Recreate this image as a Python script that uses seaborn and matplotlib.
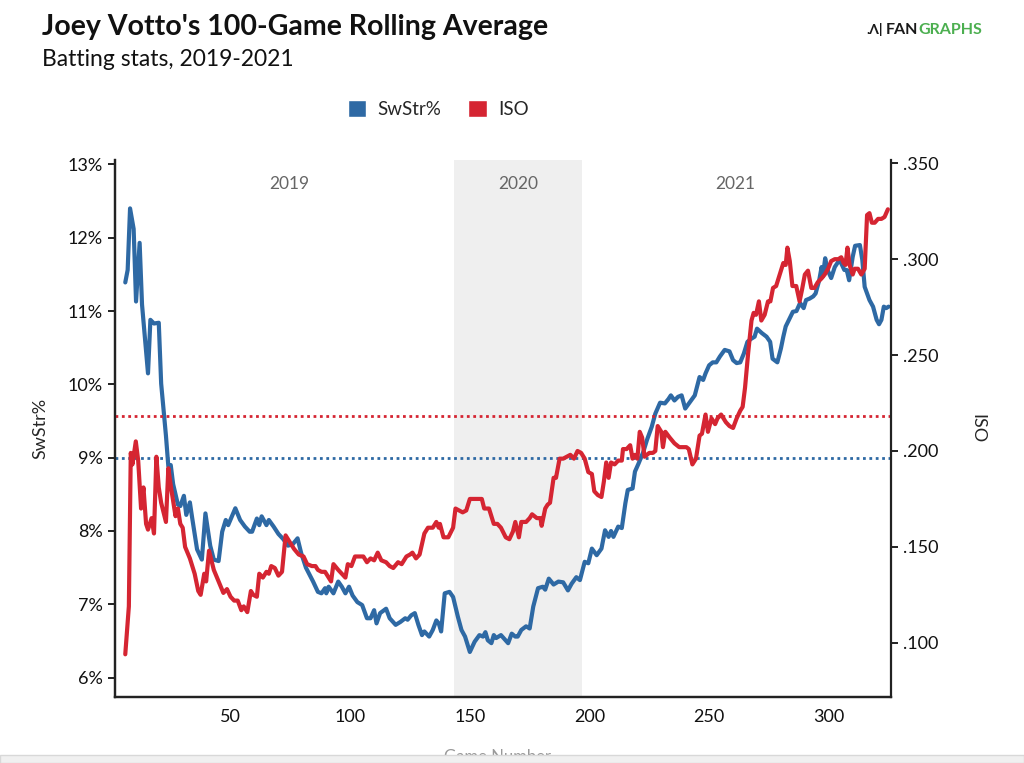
import numpy as np
import pandas as pd
import seaborn as sns
import matplotlib.pyplot as plt
from matplotlib.patches import Patch, Rectangle

# SwStr% (left axis)
swstr_games = [6, 7, 8, 9.5, 10.5, 12, 13, 15.5, 16.5, 18, 20, 21, 23, 24, 25, 26, 28, 29, 30.5, 31.5,
               33, 34, 36, 38, 39.5, 41.5, 43, 45, 46.5, 48, 49, 52, 54, 56, 58, 59, 61, 62, 63, 65,
               66, 68, 70, 72, 74, 76, 78, 79.5, 81.5, 84.5, 86.5, 88, 89.5, 90, 91, 93, 95, 96.5, 98, 99.5,
               101, 103, 105, 107, 108.5, 110, 111, 112.5, 115, 116.5, 119, 121, 123, 124, 125.5, 127, 128.5, 130, 131, 133,
               134.5, 136, 137, 138, 139.5, 141.5, 143, 145, 146.5, 148, 150, 152, 154, 155.5, 156.5, 157.5, 159, 160, 161, 163,
               166, 167.5, 169, 170, 171.5, 173.5, 175, 176.5, 178.5, 180.5, 181.5, 183, 185, 187, 189, 191, 192.5, 194.5, 196, 198,
               199.5, 201, 203, 205, 206.5, 208, 209, 210, 212, 213.5, 215, 216, 218, 219, 220.5, 222.5, 224, 226, 227.5, 229.5,
               231.5, 233, 234, 235.5, 237, 238.5, 240, 242, 244, 246, 247.5, 248.5, 250, 251.5, 253, 254.5, 256.5, 258.5, 260, 261.5,
               263, 264.5, 266, 267.5, 269, 270, 272, 274, 275.5, 276.5, 278.5, 280, 281, 282, 283.5, 285, 286.5, 288, 289.5, 290.5,
               292, 293.5, 294.5, 296, 297, 297.5, 298.5, 299.5, 301, 302.5, 304.5, 306.5, 307.5, 308.5, 310, 311, 313, 314, 315, 317,
               318.5, 320, 321, 322, 323, 324, 325]
swstr_vals = [11.39, 11.56, 12.40, 12.12, 11.13, 11.93, 11.09, 10.15, 10.88, 10.83, 10.84, 10.01, 9.30, 8.88, 8.90, 8.64, 8.36, 8.34, 8.48, 8.22,
              8.39, 8.17, 7.75, 7.61, 8.24, 7.80, 7.61, 7.59, 7.99, 8.15, 8.08, 8.31, 8.15, 8.06, 7.99, 7.99, 8.17, 8.08, 8.20, 8.08,
              8.15, 8.06, 7.96, 7.89, 7.80, 7.82, 7.90, 7.70, 7.50, 7.31, 7.17, 7.15, 7.22, 7.15, 7.24, 7.15, 7.31, 7.24, 7.15, 7.24,
              7.12, 7.03, 6.99, 6.81, 6.81, 6.92, 6.74, 6.88, 6.94, 6.81, 6.72, 6.76, 6.81, 6.79, 6.85, 6.88, 6.72, 6.58, 6.63, 6.56,
              6.65, 6.78, 6.74, 6.63, 7.15, 7.17, 7.10, 6.83, 6.65, 6.56, 6.35, 6.49, 6.58, 6.56, 6.62, 6.51, 6.47, 6.58, 6.54, 6.58,
              6.47, 6.60, 6.56, 6.56, 6.65, 6.70, 6.67, 6.97, 7.22, 7.24, 7.20, 7.35, 7.27, 7.31, 7.30, 7.19, 7.28, 7.37, 7.33, 7.58,
              7.56, 7.76, 7.67, 7.76, 8.01, 7.92, 8.00, 7.92, 8.06, 8.04, 8.38, 8.56, 8.58, 8.81, 8.92, 9.08, 9.24, 9.42, 9.60, 9.75,
              9.74, 9.80, 9.85, 9.78, 9.83, 9.85, 9.67, 9.76, 9.85, 10.10, 10.06, 10.15, 10.26, 10.30, 10.30, 10.38, 10.47, 10.45, 10.33, 10.29,
              10.30, 10.42, 10.58, 10.62, 10.65, 10.76, 10.70, 10.65, 10.58, 10.35, 10.30, 10.49, 10.65, 10.79, 10.89, 10.99, 11.00, 11.11, 11.04, 11.15,
              11.17, 11.20, 11.24, 11.42, 11.60, 11.47, 11.72, 11.56, 11.45, 11.60, 11.70, 11.56, 11.56, 11.42, 11.74, 11.89, 11.90, 11.70, 11.33, 11.15,
              11.06, 10.88, 10.82, 10.88, 11.06, 11.04, 11.06]

# ISO (right axis)
iso_games = [6, 7.5, 8.3, 9, 9.7, 10.4, 11.4, 12.6, 13.6, 14.7, 15.5, 17, 18, 19, 20, 21, 23, 24, 25, 27,
             28, 29, 30, 31, 33, 35, 36.5, 37.5, 39, 39.8, 41, 43, 45, 47, 48.5, 50, 51.5, 53, 54.5, 55.5,
             57, 58.5, 59.5, 61, 62, 63.5, 65, 66, 67, 68.5, 70, 71.5, 73, 74.5, 76.5, 78.5, 80.5, 82, 84, 85.5,
             86.5, 88, 89.5, 91, 92, 93, 95, 96.5, 98, 99, 100.5, 102, 104, 105.5, 107, 108.5, 110, 111.5, 113, 115,
             116.5, 118, 120, 121.5, 123.5, 125, 126, 127.5, 129, 131, 132.5, 134.5, 136, 137, 137.5, 139, 141, 143, 144, 145.5,
             147, 148.5, 150, 151.5, 153.5, 155, 156, 158, 159, 160, 161.5, 163, 165, 166.5, 168, 169, 170.5, 171.5, 173.5, 175,
             176, 178, 179.5, 180, 181.5, 182.5, 183.5, 185, 186, 187.5, 189, 190.5, 192, 193.5, 195, 196.5, 198, 199.5, 201, 202,
             203.5, 205, 206, 207, 208, 209, 210.5, 212, 213.5, 214, 215.5, 217, 218, 219, 220, 221, 222, 223, 225, 226.5,
             227.5, 228.5, 230, 230.7, 231.7, 233.5, 235.5, 237.5, 239, 240.5, 241.5, 243, 244.5, 246, 247, 248.5, 249.5, 251, 252.5, 253.5,
             255, 257, 258.5, 260, 261.5, 263, 264, 265, 266.3, 267.7, 268.6, 269.6, 270.8, 271.8, 273.2, 274.6, 275.6, 276.7, 278, 279.5,
             281, 282, 282.7, 283.7, 284.8, 286.4, 287.8, 288.8, 290, 291.3, 292.7, 294, 295.4, 297, 298.3, 299.7, 301, 302.5, 304, 305.2,
             306.2, 307, 307.8, 308.7, 310, 310.8, 312.2, 313.6, 315, 316, 317, 318, 319.2, 320.6, 322, 323.3, 324.7]
iso_vals = [0.094, 0.119, 0.199, 0.193, 0.199, 0.205, 0.195, 0.170, 0.181, 0.162, 0.159, 0.165, 0.157, 0.197, 0.181, 0.173, 0.163, 0.191, 0.182, 0.166,
            0.170, 0.162, 0.160, 0.150, 0.144, 0.136, 0.127, 0.125, 0.136, 0.132, 0.148, 0.138, 0.132, 0.126, 0.128, 0.124, 0.122, 0.122, 0.117, 0.119,
            0.116, 0.127, 0.125, 0.124, 0.136, 0.134, 0.137, 0.136, 0.140, 0.139, 0.135, 0.137, 0.156, 0.153, 0.149, 0.146, 0.145, 0.141, 0.140, 0.140,
            0.138, 0.137, 0.137, 0.134, 0.132, 0.141, 0.138, 0.136, 0.134, 0.141, 0.140, 0.145, 0.145, 0.145, 0.142, 0.144, 0.143, 0.147, 0.143, 0.142,
            0.140, 0.139, 0.142, 0.141, 0.145, 0.146, 0.147, 0.144, 0.146, 0.157, 0.160, 0.160, 0.163, 0.160, 0.162, 0.155, 0.155, 0.160, 0.170, 0.169,
            0.168, 0.169, 0.175, 0.175, 0.175, 0.175, 0.170, 0.170, 0.166, 0.162, 0.162, 0.160, 0.155, 0.154, 0.158, 0.163, 0.155, 0.163, 0.163, 0.165,
            0.167, 0.165, 0.165, 0.161, 0.170, 0.172, 0.173, 0.186, 0.186, 0.196, 0.196, 0.197, 0.198, 0.196, 0.200, 0.199, 0.196, 0.189, 0.188, 0.179,
            0.177, 0.176, 0.184, 0.194, 0.186, 0.194, 0.193, 0.195, 0.195, 0.201, 0.201, 0.203, 0.196, 0.198, 0.196, 0.210, 0.207, 0.197, 0.199, 0.199,
            0.200, 0.213, 0.210, 0.202, 0.210, 0.207, 0.204, 0.202, 0.202, 0.202, 0.201, 0.193, 0.196, 0.208, 0.209, 0.219, 0.210, 0.217, 0.214, 0.217,
            0.219, 0.215, 0.213, 0.212, 0.217, 0.221, 0.223, 0.233, 0.251, 0.268, 0.272, 0.271, 0.278, 0.268, 0.271, 0.278, 0.278, 0.285, 0.286, 0.292,
            0.298, 0.297, 0.306, 0.299, 0.286, 0.286, 0.278, 0.284, 0.292, 0.294, 0.285, 0.285, 0.288, 0.290, 0.292, 0.295, 0.299, 0.300, 0.300, 0.301,
            0.298, 0.297, 0.306, 0.297, 0.292, 0.295, 0.295, 0.292, 0.295, 0.323, 0.324, 0.319, 0.319, 0.321, 0.321, 0.322, 0.326]

seasons = ["2019", "2020", "2021"]
season_centers = [74.7, 170.2, 261.0]
season_2020 = (143.5, 197)
swstr_avg = 9.0
iso_avg = 0.218

BLUE = "#2e69a4"
RED = "#d52532"

sns.set_style("white")
plt.rcParams["font.family"] = ["Lato", "DejaVu Sans"]

swstr_df = pd.DataFrame({"game": swstr_games, "swstr": swstr_vals})
iso_df = pd.DataFrame({"game": iso_games, "iso": iso_vals})

fig = plt.figure(figsize=(10.24, 7.63), dpi=100)
ax = fig.add_axes([114.5 / 1024, 66.3 / 763, (891 - 114.5) / 1024, (696.7 - 160) / 763])
ax2 = ax.twinx()

# shaded 2020 season + league-average reference lines
ax.axvspan(*season_2020, color="#efefef", lw=0, zorder=0)
ax.axhline(swstr_avg, color=BLUE, lw=2, ls=(0, (1, 1.3)), zorder=1)
sns.lineplot(data=swstr_df, x="game", y="swstr", ax=ax, color=BLUE, lw=3.0, zorder=3)

ax2.axhline(iso_avg, color=RED, lw=2, ls=(0, (1, 1.3)), zorder=1)
sns.lineplot(data=iso_df, x="game", y="iso", ax=ax2, color=RED, lw=3.0, zorder=3)

ax.set_xlim(1.5, 326)
ax.set_ylim(5.74, 13.06)
ax2.set_ylim(0.0719, 0.3517)
ax.set_xticks([50, 100, 150, 200, 250, 300])
ax.set_yticks(range(6, 14))
ax.set_yticklabels([f"{v}%" for v in range(6, 14)])
ax2.set_yticks([0.1, 0.15, 0.2, 0.25, 0.3, 0.35])
ax2.set_yticklabels([".100", ".150", ".200", ".250", ".300", ".350"])

for a in (ax, ax2):
    for side in ("left", "right", "bottom"):
        a.spines[side].set_color("#222222")
        a.spines[side].set_linewidth(1.6)
    a.spines["top"].set_visible(False)
    a.tick_params(length=5, width=1.4, color="#222222", labelsize=13, labelcolor="#111111")
ax.spines["right"].set_visible(False)

ax.set_xlabel("")
ax.set_ylabel("SwStr%", fontsize=13, labelpad=14)
ax2.set_ylabel("ISO", fontsize=13, rotation=270, labelpad=34)

for name, cx in zip(seasons, season_centers):
    ax.text(cx, 0.956, name, transform=ax.get_xaxis_transform(), ha="center", va="center",
            fontsize=12.5, color="#666666")

fig.text(42 / 1024, 1 - 27 / 763, "Joey Votto's 100-Game Rolling Average", fontsize=20.5,
         fontweight="bold", ha="left", va="center", color="#111111")
fig.text(42 / 1024, 1 - 59 / 763, "Batting stats, 2019-2021", fontsize=16.5,
         ha="left", va="center", color="#111111")

# logo
fig.text(886 / 1024, 1 - 30 / 763, "FAN", fontsize=11.5, fontweight="bold", ha="left",
         va="center", color="#1a1a1a")
fig.text(918 / 1024, 1 - 30 / 763, "GRAPHS", fontsize=11.5, fontweight="bold", ha="left",
         va="center", color="#4caf50")
fig.text(866 / 1024, 1 - 30 / 763, ".\u0245|", fontsize=10, fontweight="bold", ha="left",
         va="center", color="#1a1a1a")

handles = [Patch(facecolor=BLUE, label="SwStr%"), Patch(facecolor=RED, label="ISO")]
fig.legend(handles=handles, loc="center", bbox_to_anchor=(438 / 1024, 1 - 109 / 763), ncol=2,
           frameon=False, fontsize=13.5, handlelength=1.0, handleheight=1.0, columnspacing=1.4,
           handletextpad=0.6)

fig.text(497 / 1024, 1 - 749 / 763, "Game Number", fontsize=12, ha="center", va="top",
         color="#999999")
fig.patches.append(Rectangle((0, 0), 1, 1 - 755 / 763, transform=fig.transFigure,
                             facecolor="#f0f0f0", edgecolor="#d8d8d8", lw=1, zorder=5))

fig.savefig("out.png", dpi=100)
